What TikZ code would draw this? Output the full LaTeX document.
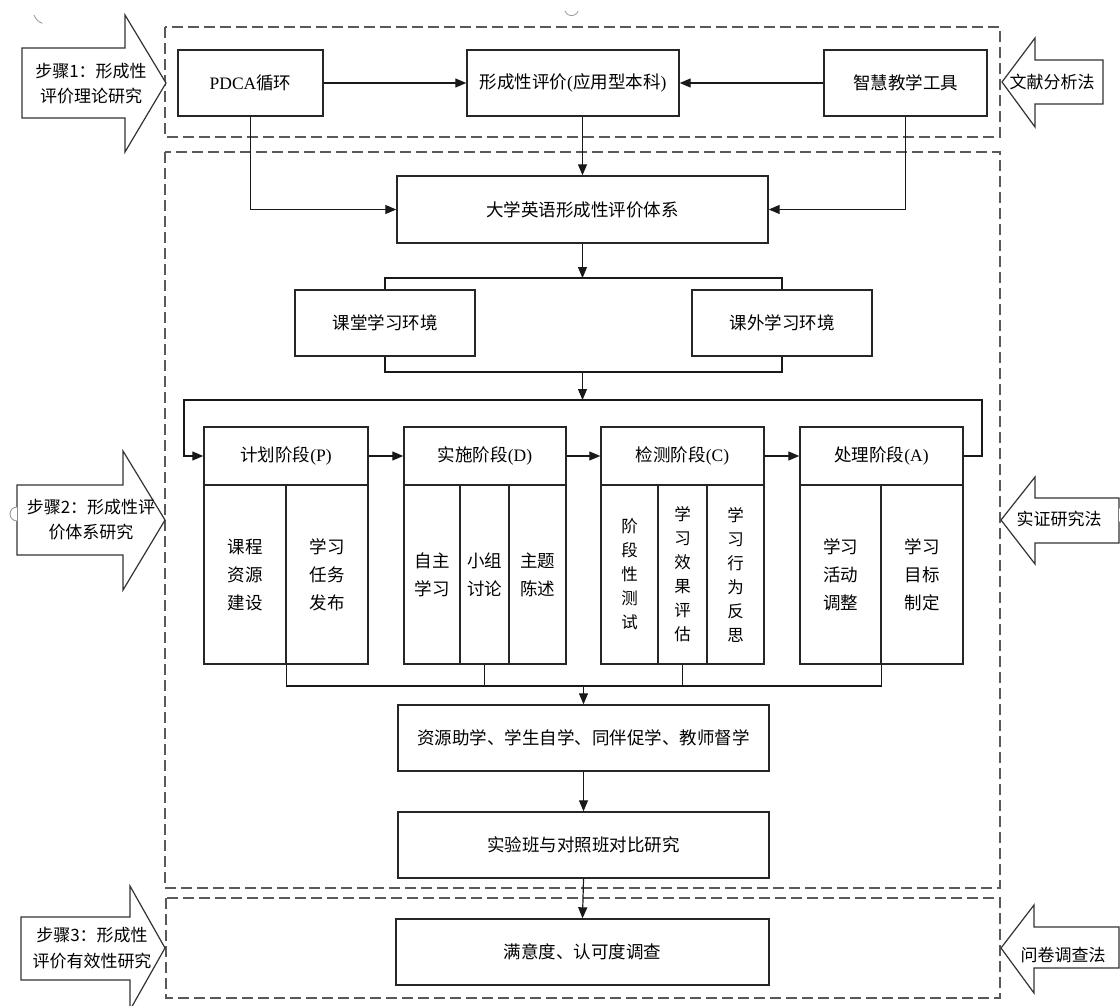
\documentclass[tikz,border=0pt]{standalone}
\usepackage{fontspec}
\setmainfont{Liberation Serif}
\newfontfamily\cjk{Noto Sans CJK SC}
\usetikzlibrary{arrows.meta}
\begin{document}
\begin{tikzpicture}[x=1pt,y=-1pt,
  box/.style={draw=black!85, line width=1.4pt, fill=white, inner sep=0pt, minimum height=66pt, font=\cjk\fontsize{17.5}{21}\selectfont},
  col/.style={draw=black!85, line width=1.4pt, inner sep=0pt, minimum height=179pt, align=center, font=\cjk\fontsize{17.5}{28}\selectfont},
  colc/.style={col, font=\cjk\fontsize{16.5}{24}\selectfont},
  hdr/.style={draw=black!85, line width=1.4pt, inner sep=0pt, minimum height=58pt, font=\cjk\fontsize{17.5}{21}\selectfont},
  dbox/.style={draw=black!65, line width=1.2pt, dash pattern=on 11pt off 5pt},
  conn/.style={draw=black!90, line width=1.2pt},
  arr/.style={conn, -{Triangle[length=11pt,width=9pt]}},
  bigarrow/.style={draw=black!80, line width=1.2pt, fill=white, line join=miter},
  lbl/.style={align=center, inner sep=0pt, font=\cjk\fontsize{17}{25}\selectfont},
  artf/.style={draw=black!45, line width=0.8pt, fill=white}
]
\useasboundingbox (0,0) rectangle (1120,1006);

% dashed regions
\draw[dbox] (165,27) rectangle (1000,137);
\draw[dbox] (165,152) rectangle (1000,888);
\draw[dbox] (166,898) rectangle (1000,998);

% big block arrows
\draw[bigarrow] (22,48) -- (125,48) -- (125,15) -- (166,83) -- (125,152) -- (125,118) -- (22,118) -- cycle;
\draw[bigarrow] (17,485) -- (123,485) -- (123,451) -- (165,520) -- (123,590) -- (123,555) -- (17,555) -- cycle;
\draw[bigarrow] (21,917) -- (130,917) -- (130,886) -- (165,948) -- (130,1010) -- (130,980) -- (21,980) -- cycle;
\draw[bigarrow] (1002,82) -- (1035,38) -- (1035,60) -- (1103,60) -- (1103,104) -- (1035,104) -- (1035,127) -- cycle;
\draw[bigarrow] (1001,520) -- (1035,477) -- (1035,498) -- (1119,498) -- (1119,543) -- (1035,543) -- (1035,564) -- cycle;
\draw[bigarrow] (1001,948) -- (1034,905) -- (1034,927) -- (1119,927) -- (1119,968) -- (1034,968) -- (1034,993) -- cycle;

% small artefacts
\draw[artf] (17,507) arc[start angle=90, end angle=270, radius=7pt];
\draw[artf] (1119,508) arc[start angle=90, end angle=-90, radius=7pt];
\draw[draw=black!40, line width=0.8pt] (34,15) arc[start angle=200, end angle=250, radius=14pt];
\draw[draw=black!40, line width=0.8pt] (565,11) arc[start angle=200, end angle=340, radius=7pt];

% labels of block arrows
\node[lbl] (s1) at (91,84) {步骤1：形成性\\评价理论研究};
\node[lbl] (s2) at (91,520) {步骤2：形成性评\\价体系研究};
\node[lbl, font=\cjk\fontsize{17}{26}\selectfont] (s3) at (92,948) {步骤3：形成性\\评价有效性研究};
\node[lbl] (m1) at (1052,82) {文献分析法};
\node[lbl] (m2) at (1059,519) {实证研究法};
\node[lbl] (m3) at (1063,955) {问卷调查法};

% top row
\node[box, minimum width=145pt] (pdca) at (250.5,83) {{\rmfamily PDCA}循环};
\node[box, minimum width=212pt] (xcpj) at (573,83) {形成性评价{\rmfamily(}应用型本科{\rmfamily)}};
\node[box, minimum width=163pt] (zhjx) at (905.5,83) {智慧教学工具};

\node[box, minimum width=371pt, minimum height=67pt] (dxyy) at (582.5,209.5) {大学英语形成性评价体系};

\node[box, minimum width=180pt] (ktxx) at (385,323) {课堂学习环境};
\node[box, minimum width=180pt] (kwxx) at (782,323) {课外学习环境};

% phase blocks
\node[hdr, minimum width=164pt] (pH) at (286,456) {计划阶段{\rmfamily(P)}};
\node[col, minimum width=82pt] (p1) at (245,574.5) {课程\\资源\\建设};
\node[col, minimum width=82pt] (p2) at (327,574.5) {学习\\任务\\发布};

\node[hdr, minimum width=162pt] (dH) at (485,456) {实施阶段{\rmfamily(D)}};
\node[col, minimum width=56pt] (d1) at (432,574.5) {自主\\学习};
\node[col, minimum width=49pt] (d2) at (484.5,574.5) {小组\\讨论};
\node[col, minimum width=57pt] (d3) at (537.5,574.5) {主题\\陈述};

\node[hdr, minimum width=163pt] (cH) at (682.5,456) {检测阶段{\rmfamily(C)}};
\node[colc, minimum width=57pt] (c1) at (629.5,574.5) {阶\\段\\性\\测\\试};
\node[colc, minimum width=49pt] (c2) at (682.5,574.5) {学\\习\\效\\果\\评\\估};
\node[colc, minimum width=57pt] (c3) at (735.5,574.5) {学\\习\\行\\为\\反\\思};

\node[hdr, minimum width=163pt] (aH) at (881.5,456) {处理阶段{\rmfamily(A)}};
\node[col, minimum width=81pt] (a1) at (840.5,574.5) {学习\\活动\\调整};
\node[col, minimum width=82pt] (a2) at (922,574.5) {学习\\目标\\制定};

% lower boxes
\node[box, minimum width=371pt] (res) at (583.5,738) {资源助学、学生自学、同伴促学、教师督学};
\node[box, minimum width=371pt] (exp) at (583.5,845) {实验班与对照班对比研究};
\node[box, minimum width=373pt] (sat) at (582.5,952) {满意度、认可度调查};

% helper coordinates
\coordinate (envT) at (582.5,278);
\coordinate (envB) at (582.5,372);
\coordinate (loopM) at (582.5,400);
\coordinate (loopL) at (184,400);
\coordinate (loopR) at (982,400);
\coordinate (jn) at (583.5,686);

% connectors: top
\draw[arr] (pdca.east) -- (xcpj.west);
\draw[arr] (zhjx.west) -- (xcpj.east);
\draw[arr] ([xshift=9.5pt]xcpj.south) -- (dxyy.north);
\draw[arr] (pdca.south) |- (dxyy.west);
\draw[arr] (zhjx.south) |- (dxyy.east);

% environments
\draw[arr] (dxyy.south) -- (envT);
\draw[conn] (ktxx.north) -- (ktxx.north |- envT) -- (kwxx.north |- envT) -- (kwxx.north);
\draw[conn] (ktxx.south) -- (ktxx.south |- envB) -- (kwxx.south |- envB) -- (kwxx.south);
\draw[arr] (envB) -- (loopM);

% PDCA loop
\draw[arr] (aH.east) -| (loopR) -- (loopL) |- (pH.west);
\draw[arr] (pH.east) -- (dH.west);
\draw[arr] (dH.east) -- (cH.west);
\draw[arr] (cH.east) -- (aH.west);

% merge to outputs
\draw[conn] (p1.south east) -- (p1.south east |- jn) -- (a1.south east |- jn) -- (a1.south east);
\draw[conn] (d2.south) -- (d2.south |- jn);
\draw[conn] (c2.south) -- (c2.south |- jn);
\draw[arr] (jn) -- (res.north);
\draw[arr] (res.south) -- (exp.north);
\draw[arr] (exp.south) -- (sat.north);
\end{tikzpicture}
\end{document}
